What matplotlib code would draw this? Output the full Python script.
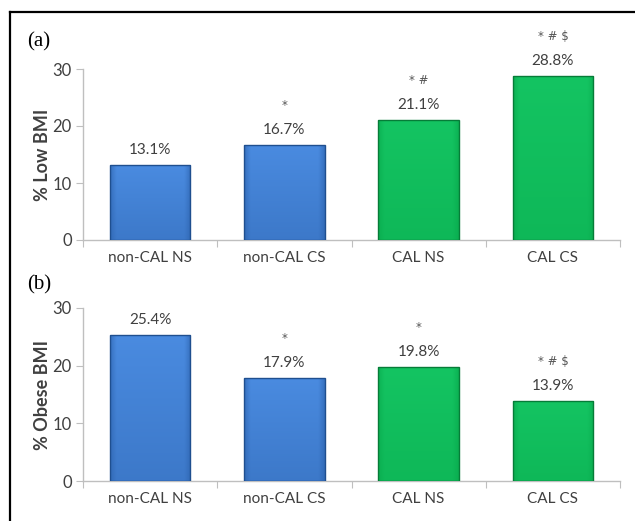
import matplotlib
matplotlib.use("Agg")
import matplotlib.pyplot as plt
from matplotlib.colors import to_rgb
import numpy as np

categories = ["non-CAL NS", "non-CAL CS", "CAL NS", "CAL CS"]
low_bmi = [13.1, 16.7, 21.1, 28.8]
obese_bmi = [25.4, 17.9, 19.8, 13.9]
low_marks = ["", "*", "* #", "* # $"]
obese_marks = ["", "*", "*", "* # $"]
panel_labels = ["(a)", "(b)"]
y_labels = ["% Low BMI", "% Obese BMI"]
y_ticks = [0, 10, 20, 30]

# (light, dark) shades used for each bar's fill gradient
bar_shades = [("#4a8be0", "#2c62ad"), ("#4a8be0", "#2c62ad"),
              ("#14c462", "#08a94c"), ("#14c462", "#08a94c")]
edge_colors = ["#1f4f8f", "#1f4f8f", "#067c38", "#067c38"]

plt.rcParams["font.family"] = ["Lato", "DejaVu Sans"]

fig = plt.figure(figsize=(6.35, 5.21), dpi=100)
fig.patch.set_facecolor("white")

# outer frame: top and left rules
fig.add_artist(plt.Line2D([10 / 635, 10 / 635], [0, 1 - 12 / 521],
                          transform=fig.transFigure, color="black", lw=1.6))
fig.add_artist(plt.Line2D([10 / 635, 1], [1 - 12 / 521, 1 - 12 / 521],
                          transform=fig.transFigure, color="black", lw=1.6))

axes_rects = [
    [83 / 635, 1 - 240 / 521, 537 / 635, 171 / 521],
    [83 / 635, 1 - 481 / 521, 537 / 635, 173 / 521],
]
series = [low_bmi, obese_bmi]
marks = [low_marks, obese_marks]
label_y = [1 - 42 / 521, 1 - 285 / 521]

grey = "#bfbfbf"
text_col = "#404040"


def shade_bar(ax, patch, light, dark):
    """Fill a bar with a soft bevel-like gradient clipped to its outline."""
    x0, y0 = patch.get_x(), patch.get_y()
    w, h = patch.get_width(), patch.get_height()
    lc, dc = np.array(to_rgb(light)), np.array(to_rgb(dark))
    nx, ny = 60, 120
    u = np.linspace(-1, 1, nx)
    horiz = 1 - np.clip((np.abs(u) - 0.85) / 0.15, 0, 1) * 0.6
    vert = np.linspace(0.55, 1.0, ny)[:, None]
    t = np.clip(horiz[None, :] * vert, 0, 1)
    img = dc[None, None, :] + (lc - dc)[None, None, :] * t[:, :, None]
    im = ax.imshow(img, extent=(x0, x0 + w, y0, y0 + h), origin="lower",
                   aspect="auto", zorder=3, interpolation="bilinear")
    im.set_clip_path(patch)


for i in range(2):
    ax = fig.add_axes(axes_rects[i])
    x = np.arange(len(categories))
    vals = series[i]
    bars = ax.bar(x, vals, width=0.6, color="none", edgecolor=edge_colors,
                  linewidth=1.0, zorder=4)
    for b, (lt, dk) in zip(bars, bar_shades):
        shade_bar(ax, b, lt, dk)
    ax.set_xlim(-0.5, len(categories) - 0.5)
    ax.set_ylim(0, 30)
    ax.set_yticks(y_ticks)
    ax.set_yticklabels([str(t) for t in y_ticks], fontsize=12, color=text_col)
    # category ticks sit at the boundaries between groups
    ax.set_xticks(np.arange(-0.5, len(categories), 1.0))
    ax.set_xticklabels([])
    ax.set_xticks(x, minor=True)
    ax.set_xticklabels(categories, minor=True, fontsize=11, color=text_col)
    ax.tick_params(axis="x", which="minor", length=0, pad=8)
    ax.tick_params(axis="x", which="major", length=5, color=grey, direction="out")
    ax.tick_params(axis="y", length=5, color=grey, direction="out", pad=3)
    for s in ["top", "right"]:
        ax.spines[s].set_visible(False)
    for s in ["left", "bottom"]:
        ax.spines[s].set_color(grey)
        ax.spines[s].set_linewidth(1.0)
    ax.set_ylabel(y_labels[i], fontsize=13, fontweight="bold", color=text_col,
                  labelpad=1)
    for xi, v, m in zip(x, vals, marks[i]):
        ax.annotate(f"{v:.1f}%", (xi, v), xytext=(0, 15), textcoords="offset pixels",
                    ha="center", va="center", fontsize=11, color=text_col,
                    annotation_clip=False)
        if m:
            ax.annotate(m, (xi, v), xytext=(0, 39), textcoords="offset pixels",
                        ha="center", va="center", fontsize=8.5, color="#555555",
                        family="DejaVu Sans", annotation_clip=False)
    fig.text(27 / 635, label_y[i], panel_labels[i], fontsize=15,
             family="Liberation Serif", ha="left", va="center", color="black")

fig.savefig("out.png", dpi=100)
